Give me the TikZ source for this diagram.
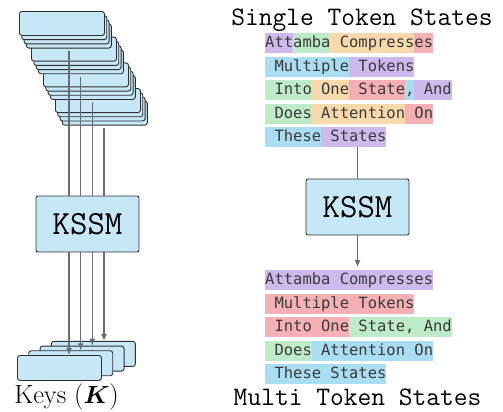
\documentclass[tikz,border=0pt]{standalone}
\usepackage{amsmath}
\usepackage{amssymb}
\usepackage{fontspec}
\usepackage{tikz}
\usepackage{xcolor}
\usetikzlibrary{calc}
\usetikzlibrary{arrows.meta}

\newfontfamily\tokfont{DejaVu Sans Mono}
\definecolor{cardblue}{HTML}{C6E7F5}
\definecolor{cardline}{HTML}{2F2F2F}
\definecolor{connline}{HTML}{666B78}
\definecolor{tokpurple}{HTML}{CDB9EC}
\definecolor{tokgreen}{HTML}{BDEBC7}
\definecolor{tokorange}{HTML}{F8D9AC}
\definecolor{tokred}{HTML}{F4B0B4}
\definecolor{tokblue}{HTML}{A9DDF2}
\definecolor{tokink}{HTML}{3A3A3A}

\begin{document}
\begin{tikzpicture}[x=1bp, y=-1bp,
	card/.style={draw=cardline, fill=cardblue, line width=0.9bp, rounded corners=2.5bp, inner sep=0pt, anchor=north west},
	kssm/.style={draw=cardline, fill=cardblue, line width=0.9bp, rounded corners=2bp, minimum width=103bp, minimum height=56bp, font=\ttfamily\fontsize{34}{34}\selectfont},
	conn/.style={draw=connline, line width=1.1bp},
	tip/.style={-{Latex[length=7bp,width=6bp]}},
	tokrow/.style={anchor=north west, inner sep=0pt, minimum height=20bp, text height=11.3bp, text depth=2.7bp, text=tokink, font=\tokfont\fontsize{15.55}{18}\selectfont},
	title/.style={anchor=base, font=\ttfamily\fontsize{26.8}{30}\selectfont}]
	\useasboundingbox (0,0) rectangle (503,411);

	% keys of the single tokens, back to front
	\foreach \g in {3,2,1,0}
		\foreach \i in {3,2,1,0}
			\node[card, minimum width=85bp, minimum height=24bp] (key\g\i) at ({19+12*\g+2.3*\i},{11+25.7*\g+4.2*\i}) {};

	% compressed keys
	\foreach \j in {3,2,1,0}
		\node[card, minimum width=84bp, minimum height=25bp] (out\j) at ({17+11.3*\j},{355-4.7*\j}) {};

	\node[kssm] (kssmL) at (87.5,224) {KSSM};
	\node[anchor=base, font=\fontsize{26.5}{30}\selectfont] (keys) at (66.5,403) {Keys ($\boldsymbol{K}$)};

	\foreach \g in {0,1,2,3} {
		\coordinate (src\g) at ({69+11.67*\g},{51+25.5*\g});
		\draw[conn] (src\g) -- (src\g |- kssmL.north);
		\draw[conn,tip] (src\g |- kssmL.south) -- (src\g |- out\g.north);
	}

	% token colours
	\foreach \a/\b/\c/\t in {0/3/tokpurple/33, 3/7/tokgreen/33, 7/16/tokorange/33, 16/18/tokred/33,
		0/9/tokblue/56.5, 9/16/tokpurple/56.5,
		0/5/tokgreen/80, 5/9/tokorange/80, 9/15/tokred/80, 15/16/tokblue/80, 16/20/tokpurple/80,
		0/5/tokgreen/103.5, 5/15/tokorange/103.5, 15/18/tokred/103.5,
		0/6/tokblue/127, 6/13/tokpurple/127,
		0/18/tokpurple/270,
		0/16/tokred/293.5,
		0/9/tokred/317, 9/20/tokgreen/317,
		0/5/tokgreen/340.5, 5/18/tokblue/340.5,
		0/13/tokblue/364}
		\fill[\c] ({265+9.33*\a},\t) rectangle ({265+9.33*\b},{\t+20});

	\node[title] (single) at (362,25) {Single Token States};
	\node[tokrow] (sgl1) at (265,33) {Attamba Compresses};
	\node[tokrow] (sgl2) at (265,56.5) {\ Multiple Tokens};
	\node[tokrow] (sgl3) at (265,80) {\ Into One State, And};
	\node[tokrow] (sgl4) at (265,103.5) {\ Does Attention On};
	\node[tokrow] (sgl5) at (265,127) {\ These States};

	\node[kssm] (kssmR) at (357.5,207) {KSSM};

	\node[tokrow] (mul1) at (265,270) {Attamba Compresses};
	\node[tokrow] (mul2) at (265,293.5) {\ Multiple Tokens};
	\node[tokrow] (mul3) at (265,317) {\ Into One State, And};
	\node[tokrow] (mul4) at (265,340.5) {\ Does Attention On};
	\node[tokrow] (mul5) at (265,364) {\ These States};
	\node[title] (multi) at (357.5,405) {Multi Token States};

	\draw[conn] (kssmR.north |- sgl5.south) -- (kssmR.north);
	\draw[conn,tip,shorten >=3bp] (kssmR.south) -- (kssmR.south |- mul1.north);
\end{tikzpicture}
\end{document}
